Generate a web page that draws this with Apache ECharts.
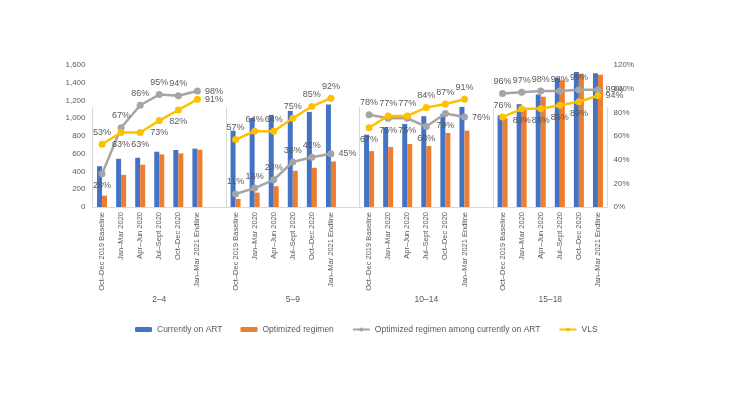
<!DOCTYPE html>
<html>
<head>
<meta charset="utf-8">
<script src="https://cdn.jsdelivr.net/npm/echarts@6/dist/echarts.min.js"></script>
<style>
  html, body { margin: 0; padding: 0; background: #fff; }
</style>
</head>
<body>
<div id="chart" style="width: 733px; height: 408px;"></div>
<script>
const groups = ['2–4', '5–9', '10–14', '15–18']
const periods = ['Oct–Dec 2019 Baseline', 'Jan–Mar 2020', 'Apr–Jun 2020', 'Jul–Sept 2020', 'Oct–Dec 2020', 'Jan–Mar 2021 Endline']

// counts, 6 periods per age group
const onArt = [
    460, 543, 555, 623, 642, 657,
    860, 1004, 1038, 1083, 1072, 1155,
    815, 898, 936, 1023, 1049, 1128,
    1034, 1159, 1268, 1457, 1521, 1506
]
const optimized = [
    128, 362, 476, 592, 604, 645,
    91, 162, 234, 408, 442, 513,
    630, 676, 710, 687, 834, 860,
    1000, 1110, 1242, 1427, 1502, 1491
]
// percentages
const optShare = [
    28, 67, 86, 95, 94, 98,
    11, 16, 23, 38, 42, 45,
    78, 75, 75, 68, 79, 76,
    96, 97, 98, 98, 99, 99
]
const vls = [
    53, 63, 63, 73, 82, 91,
    57, 64, 64, 75, 85, 92,
    67, 77, 77, 84, 87, 91,
    76, 83, 83, 86, 89, 94
]

// where each data label sits (style only)
const T = 'top', B = 'bottom', R = 'right'
const optSharePos = [B, T, T, T, T, R,  T, T, T, T, T, R,  T, B, B, B, B, R,  T, T, T, T, T, R]
const vlsPos = [T, B, B, B, B, R,  T, T, T, T, T, T,  B, T, T, T, T, T,  T, B, B, B, B, R]

// one blank category between age groups
const categories = []
const slotOf = []
groups.forEach((g, gi) => {
    periods.forEach((p, pi) => {
        slotOf.push(categories.length)
        categories.push(p)
    })
    if (gi < groups.length - 1) categories.push('')
})
const nCat = categories.length

const spread = (vals, pos) => {
    const out = new Array(nCat).fill(null)
    vals.forEach((v, i) => {
        out[slotOf[i]] = pos ? { value: v, label: { position: pos[i] } } : v
    })
    return out
}

const groupEdges = [0]
const groupMids = []
{
    let start = 0
    groups.forEach((g, gi) => {
        const len = gi < groups.length - 1 ? 7 : 6
        groupMids.push(start + len / 2)
        start += len
        groupEdges.push(start)
    })
}

const chart = echarts.init(document.getElementById('chart'))
const txt = '#595959'
const font = 'Liberation Sans, Arial, sans-serif'

const option = {
    animation: false,
    textStyle: { fontFamily: font },
    grid: { left: 92.5, right: 125.5, top: 65, bottom: 201 },
    legend: {
        left: 130,
        top: 320,
        itemGap: 18,
        itemWidth: 17,
        itemHeight: 5,
        textStyle: { fontSize: 8.5, color: txt, fontFamily: font },
        data: ['Currently on ART', 'Optimized regimen', 'Optimized regimen among currently on ART', 'VLS']
    },
    xAxis: [
        {
            type: 'category',
            data: categories,
            axisLine: { lineStyle: { color: '#d9d9d9' } },
            axisTick: { show: false },
            axisLabel: { rotate: 90, interval: 0, fontSize: 7.5, color: txt, margin: 5 }
        },
        {
            type: 'value',
            position: 'bottom',
            offset: 100,
            min: 0,
            max: nCat,
            splitLine: { show: false },
            axisLine: { show: false },
            axisTick: {
                show: true,
                inside: true,
                length: 100,
                customValues: groupEdges,
                lineStyle: { color: '#d9d9d9' }
            },
            axisLabel: {
                inside: true,
                margin: 3,
                fontSize: 8.5,
                color: txt,
                customValues: groupMids,
                formatter: function (v) {
                    return groups[groupMids.indexOf(v)] || ''
                }
            }
        }
    ],
    yAxis: [
        {
            type: 'value',
            min: 0,
            max: 1600,
            interval: 200,
            splitLine: { show: false },
            axisLine: { show: false },
            axisTick: { show: false },
            axisLabel: {
                fontSize: 8, color: txt, margin: 7,
                formatter: v => v.toLocaleString('en-US')
            }
        },
        {
            type: 'value',
            min: 0,
            max: 120,
            interval: 20,
            splitLine: { show: false },
            axisLine: { show: false },
            axisTick: { show: false },
            axisLabel: { fontSize: 8, color: txt, margin: 6, formatter: '{value}%' }
        }
    ],
    series: [
        {
            name: 'Currently on ART',
            type: 'bar',
            barWidth: 5,
            barGap: '0%',
            itemStyle: { color: '#4472C4' },
            data: spread(onArt)
        },
        {
            name: 'Optimized regimen',
            type: 'bar',
            barWidth: 5,
            itemStyle: { color: '#ED7D31' },
            data: spread(optimized)
        },
        {
            name: 'Optimized regimen among currently on ART',
            type: 'line',
            yAxisIndex: 1,
            symbol: 'circle',
            symbolSize: 7,
            lineStyle: { color: '#A5A5A5', width: 2.5 },
            itemStyle: { color: '#A5A5A5' },
            label: { show: true, fontSize: 9, color: txt, distance: 4, formatter: '{c}%' },
            data: spread(optShare, optSharePos)
        },
        {
            name: 'VLS',
            type: 'line',
            yAxisIndex: 1,
            symbol: 'circle',
            symbolSize: 7,
            lineStyle: { color: '#FFC000', width: 2.5 },
            itemStyle: { color: '#FFC000' },
            label: { show: true, fontSize: 9, color: txt, distance: 4, formatter: '{c}%' },
            data: spread(vls, vlsPos)
        }
    ]
}

chart.setOption(option)
</script>
</body>
</html>
